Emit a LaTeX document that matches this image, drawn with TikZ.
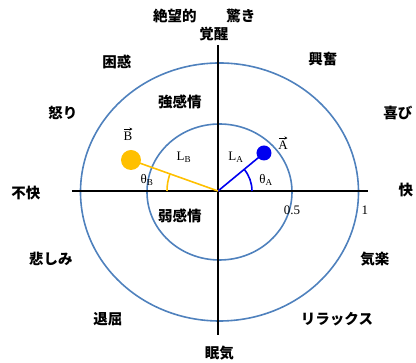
\documentclass[tikz,border=0pt]{standalone}
\usepackage{fontspec}
\usetikzlibrary{arrows.meta}
\setmainfont{Liberation Serif}
\newfontfamily\jp{Noto Sans CJK JP}
\definecolor{ringblue}{RGB}{79,129,189}
\definecolor{dotblue}{RGB}{0,0,240}
\definecolor{dotyellow}{RGB}{255,192,0}
\begin{document}
\begin{tikzpicture}[x=1pt,y=1pt,
  jl/.style={font=\jp\bfseries\fontsize{14.5}{15}\selectfont, inner sep=0pt},
  sl/.style={font=\fontsize{13}{13}\selectfont, inner sep=0pt},
  axisline/.style={line width=1.6pt, black},
  ring/.style={draw=ringblue, line width=1.6pt},
  vecline/.style={line width=1.6pt},
  vecarrow/.style={line width=0.6pt, -{Stealth[length=3pt,width=3pt]}}]
\useasboundingbox (-218,-172) rectangle (198,191);
% rings
\draw[ring] (1.5,-1) ellipse [x radius=139, y radius=129];
\draw[ring] (1.5,-1) ellipse [x radius=72.5, y radius=68];
% axes
\coordinate (o) at (0,0);
\coordinate (xl) at (-146,0);
\coordinate (xr) at (150,0);
\coordinate (yt) at (0,146);
\coordinate (yb) at (0,-144);
\draw[axisline] (xl) -- (xr);
\draw[axisline] (yt) -- (yb);
% vectors
\node[circle, fill=dotblue, minimum size=15pt, inner sep=0pt] (a) at (46,38) {};
\node[circle, fill=dotyellow, minimum size=20pt, inner sep=0pt] (b) at (-87,31) {};
\draw[vecline, dotblue] (o) -- (a.center);
\draw[vecline, dotyellow] (o) -- (b.center);
\draw[vecline, dotblue] (34,0) arc[start angle=0, end angle=39.6, radius=34];
\draw[vecline, dotyellow] (-51,0) arc[start angle=180, end angle=160.4, radius=51];
% serif labels
\node[sl] (va) at (65,46) {A};
\node[sl] (vb) at (-90,55) {B};
\draw[vecarrow] ([xshift=-4pt,yshift=2.5pt]va.north) -- ([xshift=4.5pt,yshift=2.5pt]va.north);
\draw[vecarrow] ([xshift=-4pt,yshift=2.5pt]vb.north) -- ([xshift=4.5pt,yshift=2.5pt]vb.north);
\node[sl] (la) at (18,34) {L\textsubscript{A}};
\node[sl] (lb) at (-34,34) {L\textsubscript{B}};
\node[sl] (ta) at (48,11) {θ\textsubscript{A}};
\node[sl] (tb) at (-71,11) {θ\textsubscript{B}};
\node[sl] (half) at (74,-19) {0.5};
\node[sl] (one) at (147,-19) {1};
% japanese labels
\node[jl] (n1) at (-43,175) {絶望的};
\node[jl] (n2) at (23,175) {驚き};
\node[jl] (n3) at (-4,157) {覚醒};
\node[jl] (n4) at (-101,129) {困惑};
\node[jl] (n5) at (105,132) {興奮};
\node[jl] (n6) at (-38,89) {強感情};
\node[jl] (n7) at (-155,78) {怒り};
\node[jl] (n8) at (180,78) {喜び};
\node[jl] (n9) at (-192,-2) {不快};
\node[jl] (n10) at (188,1) {快};
\node[jl] (n11) at (-38,-25) {弱感情};
\node[jl] (n12) at (-167,-68) {悲しみ};
\node[jl] (n13) at (157,-68) {気楽};
\node[jl] (n14) at (-110,-128) {退屈};
\node[jl] (n15) at (119,-128) {リラックス};
\node[jl] (n16) at (1.5,-162) {眠気};
\end{tikzpicture}
\end{document}
